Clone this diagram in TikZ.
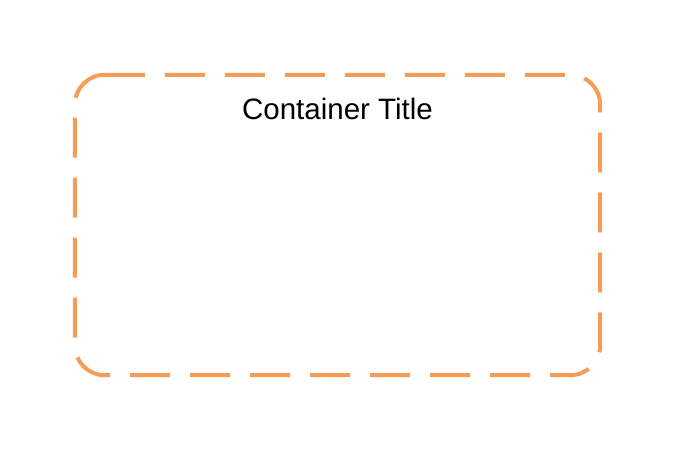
\documentclass[tikz,border=0pt]{standalone}
\usepackage{fontspec}
\setmainfont{Liberation Sans}
\usepackage{tikz}
\usetikzlibrary{calc, positioning}
\definecolor{boxorange}{RGB}{245,157,86}

\begin{document}
\begin{tikzpicture}[x=1pt, y=1pt,
  boxline/.style={draw=boxorange, line width=4pt, rounded corners=30pt, dash pattern=on 40pt off 20pt},
  boxtitle/.style={font=\fontsize{29.5}{35}\selectfont, inner sep=0pt, anchor=base}]
  \useasboundingbox (0,0) rectangle (677,452);
  \node[minimum width=525pt, minimum height=300pt, inner sep=0pt] (container) at (337.5,227) {};
  \draw[boxline] ([xshift=30pt]container.north west) -- (container.north east) -- (container.south east) -- (container.south west) -- (container.north west) -- ([xshift=30pt]container.north west);
  \node[boxtitle] (title) at (337.5,332) {Container Title};
\end{tikzpicture}
\end{document}
